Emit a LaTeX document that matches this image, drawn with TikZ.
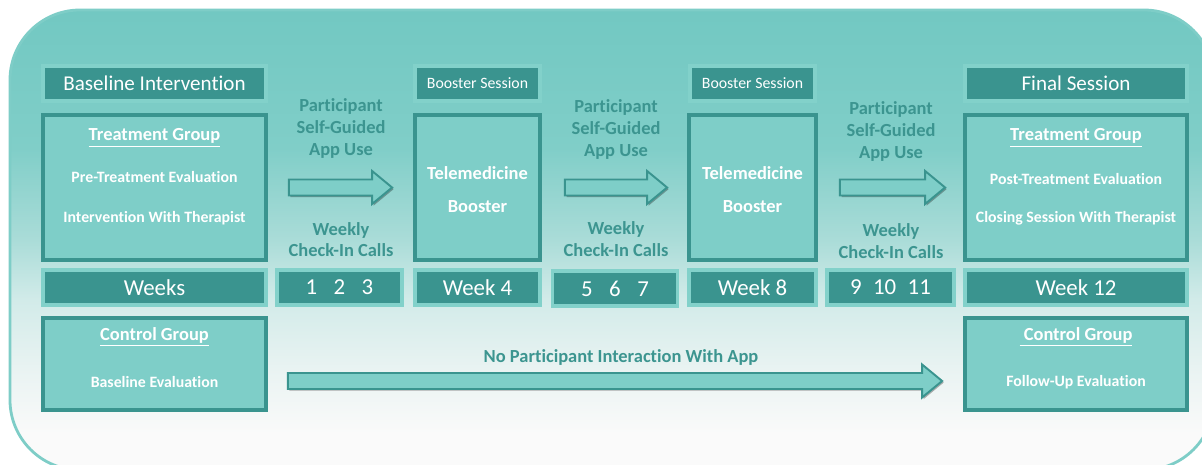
\documentclass[tikz,border=0pt]{standalone}
\usepackage{fontspec}
\setmainfont{Carlito}[Ligatures=NoCommon]
\usepackage{xcolor}
\usepackage{tikz}
\usetikzlibrary{positioning, calc, shadows}

\definecolor{tealdark}{HTML}{3A948F}
\definecolor{teallight}{HTML}{7ECEC8}
\definecolor{tealrim}{HTML}{82D1CA}
\definecolor{tealtext}{HTML}{3C9590}
\definecolor{bgtop}{HTML}{72C8C2}
\definecolor{bgmid}{HTML}{80CEC8}
\definecolor{bglow}{HTML}{AADCD8}
\definecolor{bgpale}{HTML}{D2EBE9}
\definecolor{bgfade}{HTML}{E9F3F2}
\definecolor{bgwhite}{HTML}{FAFAFA}
\definecolor{bgline}{HTML}{7ECDC7}

% shading box is 100bp, the path fills the middle 25bp--75bp
\pgfdeclareverticalshading{bgshade}{100bp}{color(0bp)=(bgwhite); color(29bp)=(bgwhite);
  color(36bp)=(bgfade); color(43.5bp)=(bgpale); color(50bp)=(bglow);
  color(60bp)=(bgmid); color(75bp)=(bgtop); color(100bp)=(bgtop)}

% block arrow between two named points (horizontal)
\newcommand{\blockarrow}[3][]{%
  \draw[barrow,#1] ($(#2)+(0,-8)$) -- ($(#3)+(-20,-8)$) -- ($(#3)+(-20,-16.5)$)
    -- (#3) -- ($(#3)+(-20,16.5)$) -- ($(#3)+(-20,8)$) -- ($(#2)+(0,8)$) -- cycle;}

\begin{document}
\begin{tikzpicture}[
  x=0.02cm, y=-0.02cm,
  shade/.style={drop shadow={shadow xshift=0.9pt, shadow yshift=-0.9pt,
                opacity=0.3, fill=black}},
  hdr/.style={rectangle, draw=tealrim, line width=2.2pt, fill=tealdark,
              text=white, minimum height=0.7cm, inner sep=0pt,
              font=\fontsize{12}{14}\selectfont, shade},
  bsthdr/.style={hdr, minimum width=2.5cm, font=\fontsize{9}{11}\selectfont},
  weekbar/.style={hdr, minimum height=0.7cm, font=\fontsize{13}{15}\selectfont},
  grp/.style={rectangle, draw=tealdark, line width=2.2pt, fill=teallight,
              inner sep=0pt, shade},
  ttl/.style={text=white, font=\bfseries\fontsize{10.5}{12}\selectfont},
  body/.style={text=white, font=\bfseries\fontsize{9}{11}\selectfont},
  gaptxt/.style={text=tealtext, align=center,
                 font=\bfseries\fontsize{10.5}{12.6}\selectfont},
  barrow/.style={draw=tealdark, line width=1.1pt, fill=teallight, line join=miter, shade},
]

\useasboundingbox (0,0) rectangle (1202,465);

%% Background panel
\path[shading=bgshade, draw=bgline, line width=1.6pt, rounded corners=1.4cm]
  (10,10) rectangle (1214,470);

%% Header row
\node[hdr, minimum width=4.46cm] (base) at (154.5,83.5) {Baseline Intervention};
\node[bsthdr] (bst1) at (477.5,83.5) {Booster Session};
\node[bsthdr] (bst2) at (752.5,83.5) {Booster Session};
\node[hdr, minimum width=4.44cm] (fin) at (1076,83.5) {Final Session};

%% Treatment row
\node[grp, minimum width=4.46cm, minimum height=2.9cm] (tg1) at (154.5,187.5) {};
\node[ttl] (tg1t) at (154.5,138) {\underline{Treatment Group}};
\node[body] (tg1a) at (154.5,177) {Pre-Treatment Evaluation};
\node[body] (tg1b) at (154.5,218) {Intervention With Therapist};

\node[grp, minimum width=2.5cm, minimum height=2.9cm] (tele1) at (477.5,187.5) {};
\node[ttl] (tele1a) at (477.5,173) {Telemedicine};
\node[ttl] (tele1b) at (477.5,207) {Booster};

\node[grp, minimum width=2.54cm, minimum height=2.9cm] (tele2) at (752.5,187.5) {};
\node[ttl] (tele2a) at (752.5,173) {Telemedicine};
\node[ttl] (tele2b) at (752.5,207) {Booster};

\node[grp, minimum width=4.44cm, minimum height=2.9cm] (tg2) at (1076,187.5) {};
\node[ttl] (tg2t) at (1076,138) {\underline{Treatment Group}};
\node[body] (tg2a) at (1076,179) {Post-Treatment Evaluation};
\node[body] (tg2b) at (1076,218) {Closing Session With Therapist};

%% Gap labels
\node[gaptxt] (app1) at (341,128.5) {Participant\\Self-Guided\\App Use};
\node[gaptxt] (app2) at (616,129.5) {Participant\\Self-Guided\\App Use};
\node[gaptxt] (app3) at (891,131.5) {Participant\\Self-Guided\\App Use};
\node[gaptxt, font=\bfseries\fontsize{10.5}{12.3}\selectfont] (call1) at (341,239.5) {Weekly\\Check-In Calls};
\node[gaptxt, font=\bfseries\fontsize{10.5}{12.3}\selectfont] (call2) at (616,239) {Weekly\\Check-In Calls};
\node[gaptxt, font=\bfseries\fontsize{10.5}{12.3}\selectfont] (call3) at (891,241) {Weekly\\Check-In Calls};

%% Weeks row
\node[weekbar, minimum width=4.46cm] (wks) at (154.5,287.5) {Weeks};
\node[weekbar, minimum width=2.5cm] (num1) at (339.5,287.5) {1\hspace{0.72em}2\hspace{0.72em}3};
\node[weekbar, minimum width=2.5cm] (wk4) at (477.5,287.5) {Week 4};
\node[weekbar, minimum width=2.5cm] (num2) at (615,288.5) {5\hspace{0.72em}6\hspace{0.72em}7};
\node[weekbar, minimum width=2.54cm] (wk8) at (752.5,287.5) {Week 8};
\node[weekbar, minimum width=2.54cm] (num3) at (890.5,287.5) {9\hspace{0.5em}10\hspace{0.5em}11};
\node[weekbar, minimum width=4.44cm] (wk12) at (1076,287.5) {Week 12};

%% Control row
\node[grp, minimum width=4.46cm, minimum height=1.84cm] (cg1) at (154.5,364) {};
\node[ttl] (cg1t) at (154.5,337) {\underline{Control Group}};
\node[body] (cg1a) at (154.5,382) {Baseline Evaluation};

\node[grp, minimum width=4.44cm, minimum height=1.84cm] (cg2) at (1076,364) {};
\node[ttl] (cg2t) at (1076,337) {\underline{\ Control Group}};
\node[body] (cg2a) at (1076,382) {Follow-Up Evaluation};

%% Arrows
\coordinate (a1s) at ([xshift=0.42cm]tg1.east);
\coordinate (a1e) at ([xshift=-0.42cm]tele1.west);
\coordinate (a2s) at ([xshift=0.46cm]tele1.east);
\coordinate (a2e) at ([xshift=-0.4cm]tele2.west);
\coordinate (a3s) at ([xshift=0.44cm]tele2.east);
\coordinate (a3e) at ([xshift=-0.36cm]tg2.west);
\coordinate (a4s) at ([xshift=0.4cm, yshift=-0.34cm]cg1.east);
\coordinate (a4e) at ([xshift=-0.42cm, yshift=-0.34cm]cg2.west);
\blockarrow{a1s}{a1e}
\blockarrow{a2s}{a2e}
\blockarrow{a3s}{a3e}
\blockarrow{a4s}{a4e}

\node[gaptxt] (noint) at (621,357.5) {No Participant Interaction With App};

\end{tikzpicture}
\end{document}
